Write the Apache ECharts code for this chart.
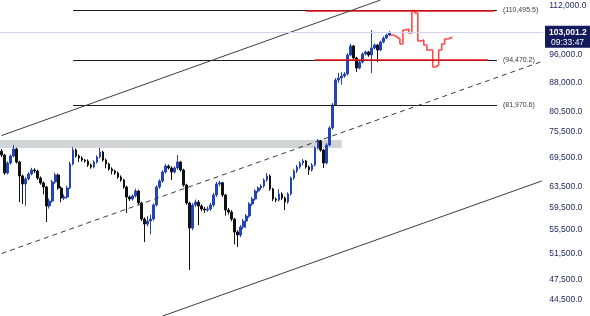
<!DOCTYPE html>
<html><head><meta charset="utf-8">
<script src="https://cdn.jsdelivr.net/npm/echarts@6/dist/echarts.min.js"></script>
<style>html,body{margin:0;padding:0;background:#fff}#c{width:590px;height:316px}</style>
</head><body><div id="c"></div>
<script>
// ---- data ----
const opens = [71000,70160,66300,68420,69940,71490,68630,65690,64060,65070,
66100,66930,66720,65270,64260,63450,59780,60720,64460,65900,
63250,61300,61490,63250,68210,71260,69940,69500,69060,68850,
68000,67570,68630,69720,70820,69060,68210,67140,66720,66310,
65480,64860,63450,61490,61100,61690,62660,60350,57380,56490,
57020,57380,59970,63450,64660,66510,67780,67360,66510,67360,
68630,66930,63850,60350,55780,59970,60530,59780,59220,59030,
59220,59970,61880,64060,64300,61880,59030,58660,57380,55090,
54580,55960,57020,57930,60160,61100,62660,63250,63650,64860,
65690,63050,61100,60900,62070,61300,60530,62070,65270,66720,
67570,68420,68850,67570,66930,68000,71720,73310,71260,68420,
72400,76360,82080,88780,89340,89900,90470,96030,98790,95130,
92180,93940,96330,96940,96030,98170,99100,97550,100030,101290,
102240];
const closes = [70160,66300,68420,69940,71490,68630,65690,64060,65070,66100,
66930,66720,65270,64260,63450,59780,60720,64460,65900,63250,
61300,61490,63250,68210,71260,69940,69500,69060,68850,68000,
67570,68630,69720,70820,69060,68210,67140,66720,66310,65480,
64860,63450,61490,61100,61690,62660,60350,57380,56490,57020,
57380,59970,63450,64660,66510,67780,67360,66510,67360,68630,
66930,63850,60350,55780,59970,60530,59780,59220,59030,59220,
59970,61880,64060,64300,61880,59030,58660,57380,55090,54580,
55960,57020,57930,60160,61100,62660,63250,63650,64860,65690,
63050,61100,60900,62070,61300,60530,62070,65270,66720,67570,
68420,68850,67570,66930,68000,71720,73310,71260,68420,72400,
76360,82080,88780,89340,89900,90470,96030,98790,95130,92180,
93940,96330,96940,96030,98170,99100,97550,100030,101290,102240,
103001.2];
const lows = [69700,65900,66000,68100,69700,68300,60500,60160,59800,64800,
65800,66300,64900,63900,62000,56850,59300,60400,64100,62900,
60500,60900,61200,63000,67900,69600,68600,68700,68500,67600,
67200,67300,68300,69400,68700,67300,66800,66000,65900,65100,
64500,63100,58470,60700,60800,61400,60000,57000,53380,56100,
54700,57100,59700,63100,64300,66200,67000,64860,66200,67000,
66600,63500,60000,48890,55400,59600,56300,58800,58500,58700,
58900,59600,61500,63600,61500,58000,58200,57000,53000,52550,
54200,55600,55800,57600,59800,60800,62300,62900,63300,64500,
62700,60700,60500,60600,60900,59030,60200,61800,64900,66300,
67200,67900,67200,65900,66600,67700,71400,70900,67360,68100,
72100,76000,81800,88000,87500,89400,90100,95600,94700,91050,
91800,93500,95900,95500,90750,97700,93940,97200,99600,100900,
101900];
const highs = [71500,70400,68800,70300,72400,71800,68900,66000,65500,66500,
67400,67300,67000,65600,64600,63700,61200,64900,66400,66200,
63600,62000,63700,68700,71900,71600,70300,69900,69300,69200,
68300,69000,70100,71720,71100,69400,68500,67500,67000,66600,
65800,65100,63700,61800,62000,63100,62900,60600,57700,57900,
58200,60300,63800,65000,66900,68200,68100,67700,67700,70160,
68900,67200,64100,60600,60300,61000,60900,60100,59600,59700,
60400,62300,64500,64700,64500,62100,59400,59000,57600,55400,
56300,57400,58300,60500,61500,63000,63600,64000,65200,66300,
66000,63300,61400,63000,62400,61600,62400,65600,67100,68000,
68800,69300,69100,67900,68400,72100,73800,73600,71500,72800,
76800,82600,89300,90800,91000,91000,96600,99500,99100,95500,
94400,96800,97400,97300,103870,99600,99400,100500,101800,102700,
103500];
// red projected path, starting at the last candle
const projStart = 130;
const projection = [103001.2,102240,101610,100980,99420,103870,104200,102910,110400,109550,
100350,100660,99100,97550,97550,92480,93060,97550,99420,100980,101290,101610];
const categoryCount = 182;
const yTicks = [112000,104000,96000,88000,80500,75500,69500,63500,59500,55500,51500,47500,44500];
const yMin = 42325, yMax = 114130;
const levels = [110495.5, 94470.2, 81970.6];
const levelStart = 24, levelEnd = 166;
const redSegments = [[110495.5, 102, 165], [94470.2, 105, 163]];
const upperChannel = [[0, 74570], [127, 114130]];
const midChannel = [[0, 51490], [181, 94085]];
const lowerChannel = [[54, 42325], [181, 64660]];
const zoneTop = 73560, zoneBottom = 71720, zoneEnd = 114;
const lastPrice = 103001.2, lastTime = '09:33:47';

// ---- chart ----
const fmt = v => Number(v).toLocaleString('en-US', {minimumFractionDigits: 1, maximumFractionDigits: 1});
const categories = Array.from({length: categoryCount}, (_, i) => String(i));
const candleData = closes.map((c, i) => [opens[i], c, lows[i], highs[i]]);
const projData = projection.map((v, k) => [projStart + k, v]);

const marks = [];
levels.forEach(v => {
  marks.push([{coord: [levelStart, v], lineStyle: {color: '#1c1c1c', width: 1.2, type: 'solid'},
    label: {show: true, position: 'end', formatter: '(' + fmt(v) + ')', color: '#3a3a3a', fontSize: 7, fontFamily: 'Liberation Sans', distance: 6}},
    {coord: [levelEnd, v]}]);
});
redSegments.forEach(s => {
  marks.push([{coord: [s[1], s[0]], lineStyle: {color: '#e8151b', width: 1.7, type: 'solid'}, label: {show: false}},
    {coord: [s[2], s[0]]}]);
});
[[upperChannel, 'solid'], [midChannel, [5, 4]], [lowerChannel, 'solid']].forEach(([seg, t]) => {
  marks.push([{coord: seg[0], lineStyle: {color: '#3c3c3c', width: 1, type: t}, label: {show: false}}, {coord: seg[1]}]);
});
marks.push({yAxis: lastPrice, lineStyle: {color: '#d0d2ee', width: 1, type: 'solid'}, label: {show: false}});

const chart = echarts.init(document.getElementById('c'), null, {renderer: 'canvas'});
chart.setOption({
  animation: false,
  backgroundColor: '#ffffff',
  grid: {left: 0, right: 45, top: 0, bottom: 0, containLabel: false},
  xAxis: {type: 'category', data: categories, boundaryGap: true, show: false},
  yAxis: {
    type: 'log', position: 'right', min: yMin, max: yMax, logBase: 10,
    splitLine: {show: false}, axisLine: {show: false}, axisTick: {show: false},
    axisLabel: {customValues: yTicks, formatter: v => fmt(v), color: '#222a62', fontSize: 8.5, fontFamily: 'Liberation Sans', margin: 6}
  },
  series: [
    {
      type: 'candlestick', data: candleData, barWidth: 2.2, z: 3,
      itemStyle: {color: '#2443b5', color0: '#111111', borderColor: '#2443b5', borderColor0: '#111111', borderWidth: 1}
    },
    {
      type: 'line', data: projData, step: 'middle', symbol: 'none', z: 2,
      lineStyle: {color: '#ff4a4a', width: 1.6},
      markLine: {silent: true, symbol: ['none', 'none'], precision: 1, data: marks},
      markArea: {silent: true, itemStyle: {color: '#d3d4d8'}, data: [[{yAxis: zoneTop}, {xAxis: zoneEnd, yAxis: zoneBottom}]]}
    }
  ]
});
const py = chart.convertToPixel({yAxisIndex: 0}, lastPrice);
chart.setOption({graphic: [
  {type: 'rect', z: 100, shape: {x: 545, y: py - 7, width: 45, height: 22}, style: {fill: '#141b5c'}},
  {type: 'text', z: 101, x: 549, y: py - 5, style: {text: fmt(lastPrice), fill: '#ffffff', font: 'bold 8.5px Liberation Sans'}},
  {type: 'text', z: 101, x: 551, y: py + 5, style: {text: lastTime, fill: '#ffffff', font: '8.5px Liberation Sans'}}
]});
</script></body></html>
